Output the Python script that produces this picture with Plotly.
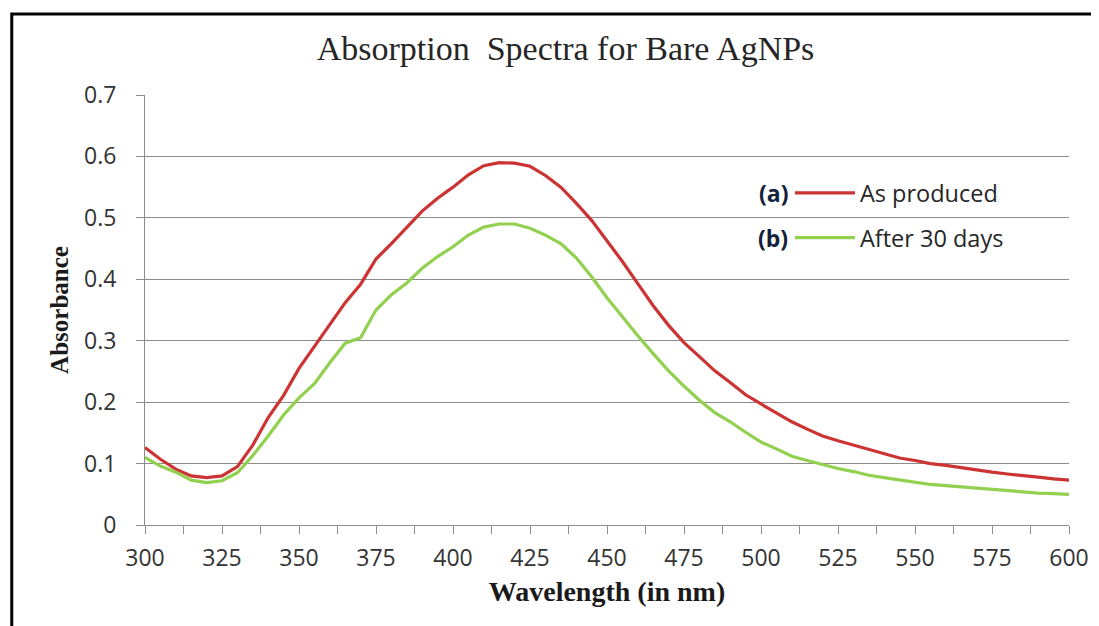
import plotly.graph_objects as go

wavelength = list(range(300, 601, 5))

as_produced = [
    0.126, 0.107, 0.091, 0.080, 0.077, 0.080, 0.095, 0.130, 0.175, 0.211,
    0.255, 0.291, 0.327, 0.362, 0.392, 0.433, 0.458, 0.484, 0.511, 0.532,
    0.550, 0.570, 0.585, 0.590, 0.589, 0.584, 0.569, 0.550, 0.524, 0.496,
    0.463, 0.429, 0.393, 0.357, 0.325, 0.297, 0.274, 0.251, 0.232, 0.212,
    0.197, 0.183, 0.168, 0.156, 0.145, 0.137, 0.130, 0.124, 0.117, 0.109,
    0.105, 0.100, 0.097, 0.093, 0.090, 0.086, 0.083, 0.081, 0.078, 0.075,
    0.073,
]

after_30_days = [
    0.110, 0.096, 0.086, 0.073, 0.069, 0.072, 0.085, 0.113, 0.145, 0.179,
    0.207, 0.230, 0.264, 0.296, 0.305, 0.350, 0.375, 0.394, 0.418, 0.437,
    0.453, 0.472, 0.485, 0.490, 0.490, 0.483, 0.472, 0.458, 0.435, 0.404,
    0.370, 0.338, 0.308, 0.279, 0.251, 0.226, 0.203, 0.183, 0.168, 0.151,
    0.135, 0.124, 0.112, 0.105, 0.098, 0.092, 0.087, 0.081, 0.077, 0.073,
    0.069, 0.066, 0.064, 0.062, 0.059, 0.057, 0.055, 0.053, 0.052, 0.051,
    0.050,
]

series_names = ["As produced", "After 30 days"]
series_tags = ["(a)", "(b)"]
x_ticks = list(range(300, 601, 25))
y_ticks = [0, 0.1, 0.2, 0.3, 0.4, 0.5, 0.6, 0.7]
y_tick_labels = ["0", "0.1", "0.2", "0.3", "0.4", "0.5", "0.6", "0.7"]

grid = "#8c8c8c"
sans = "Open Sans, Liberation Sans, sans-serif"
serif = "Liberation Serif, Times New Roman, serif"

fig = go.Figure()
fig.add_trace(go.Scatter(x=wavelength, y=as_produced, mode="lines", name=series_names[0],
                         line=dict(color="#cc3333", width=3.2), legend="legend", showlegend=True))
fig.add_trace(go.Scatter(x=wavelength, y=after_30_days, mode="lines", name=series_names[1],
                         line=dict(color="#92d050", width=3.2), legend="legend2", showlegend=True))

legend_common = dict(font=dict(family=sans, size=23.5, color="#262626"),
                     bgcolor="rgba(0,0,0,0)", borderwidth=0,
                     xanchor="left", yanchor="middle", itemwidth=60)

fig.update_layout(
    width=1091, height=618,
    showlegend=True,
    paper_bgcolor="white", plot_bgcolor="white",
    margin=dict(l=137, r=30, t=87, b=101),
    title=dict(text="Absorption&nbsp; Spectra for Bare AgNPs", x=0.511, xanchor="center",
               y=0.935, yanchor="middle",
               font=dict(family=serif, size=34, color="#262626")),
    legend=dict(x=0.698, y=0.772, **legend_common),
    legend2=dict(x=0.698, y=0.668, **legend_common),
    xaxis=dict(range=[300, 600], tickvals=x_ticks, ticktext=[str(v) for v in x_ticks],
               automargin=False,
               showgrid=False, showline=True, linecolor=grid, linewidth=1,
               ticks="outside", ticklen=8, tickcolor=grid, ticklabelstandoff=4,
               minor=dict(dtick=12.5, tick0=300, ticks="outside", ticklen=8, tickcolor=grid, showgrid=False),
               tickfont=dict(family=sans, size=23, color="#333333"),
               title=dict(text="<b>Wavelength (in nm)</b>", standoff=9,
                          font=dict(family=serif, size=28, color="#1a1a1a")),
               zeroline=False),
    yaxis=dict(range=[0, 0.7], tickvals=y_ticks, ticktext=y_tick_labels,
               automargin=False,
               showgrid=True, gridcolor=grid, gridwidth=1,
               showline=True, linecolor=grid, linewidth=1,
               ticks="outside", ticklen=8, tickcolor=grid, ticklabelstandoff=15,
               tickfont=dict(family=sans, size=23, color="#333333"),
               title=dict(text="<b>Absorbance</b>", standoff=8,
                          font=dict(family=serif, size=25, color="#1a1a1a")),
               zeroline=False),
)

tag_y = [0.772, 0.668]
for tag, yy in zip(series_tags, tag_y):
    fig.add_annotation(text="<b>" + tag + "</b>", xref="paper", yref="paper",
                       x=0.698, y=yy, xanchor="right", yanchor="middle", showarrow=False,
                       font=dict(family=sans, size=23, color="#14213d"))

fig.add_shape(type="rect", xref="paper", yref="paper",
              x0=-0.1442, y0=-0.3, x1=1.1, y1=1.1884,
              line=dict(color="black", width=3), fillcolor="rgba(0,0,0,0)", layer="above")

fig.write_html("out.html")
